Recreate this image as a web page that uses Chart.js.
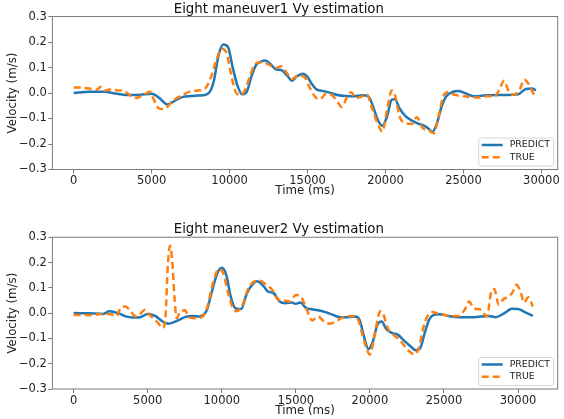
<!DOCTYPE html>
<html>
<head>
<meta charset="utf-8">
<script src="https://cdn.jsdelivr.net/npm/chart.js@4.4.0/dist/chart.umd.min.js"></script>
<style>
  html, body { margin: 0; padding: 0; background: #fff; }
  canvas { display: block; }
</style>
</head>
<body>
<canvas id="vy1" width="564" height="210"></canvas>
<canvas id="vy2" width="564" height="209"></canvas>
<script>
"use strict";

// ---- data ----
const seriesLabels = ["PREDICT", "TRUE"];
const chartTitles = ["Eight maneuver1 Vy estimation", "Eight maneuver2 Vy estimation"];
const xTicks = [0, 5000, 10000, 15000, 20000, 25000, 30000];
const yTicks = [-0.3, -0.2, -0.1, 0.0, 0.1, 0.2, 0.3];

const m1PredictTime = [0,1000,2000,2500,3000,3500,4000,4500,5000,5500,6000,6500,7000,7500,8000,8500,8800,9000,9300,9600,9900,10200,10500,10800,11100,11400,11700,12000,12300,12600,13000,13300,13700,14000,14300,14700,15000,15300,15600,16000,16500,17000,17500,18000,18500,18900,19200,19500,19800,20100,20400,20600,20900,21300,21700,22100,22500,22800,23000,23300,23600,23900,24300,24700,25200,25700,26500,27500,28500,29000,29400,29650];
const m1PredictVy = [0.0,0.005,0.005,0.0,-0.005,-0.008,-0.008,-0.005,-0.003,-0.02,-0.045,-0.03,-0.015,-0.012,-0.01,-0.006,0.012,0.05,0.15,0.19,0.18,0.1,0.03,-0.005,0.005,0.065,0.11,0.123,0.128,0.115,0.092,0.09,0.068,0.048,0.065,0.076,0.063,0.033,0.013,0.008,0.0,-0.009,-0.012,-0.013,-0.009,-0.013,-0.053,-0.105,-0.128,-0.092,-0.026,-0.024,-0.06,-0.092,-0.108,-0.12,-0.129,-0.142,-0.153,-0.118,-0.053,-0.013,0.004,0.008,-0.003,-0.013,-0.009,-0.008,-0.005,0.016,0.018,0.01];

const m1TrueTime = [0,500,1000,1500,1700,2000,2500,2800,3000,3500,3700,4000,4300,4600,4900,5100,5400,5700,6000,6300,6700,7000,7500,8000,8400,8600,8900,9200,9500,9800,10100,10400,10700,11000,11300,11600,11900,12300,12700,13000,13300,13700,14000,14400,14800,15100,15500,15800,16200,16600,17000,17200,17500,17800,18100,18500,18800,19100,19500,19800,20100,20400,20600,20900,21300,21700,22000,22400,22800,23100,23400,23700,24000,24500,25000,25500,26000,26500,27000,27300,27600,27900,28200,28600,28900,29200,29500,29650];
const m1TrueVy = [0.022,0.021,0.018,0.013,0.024,0.01,0.016,0.01,0.01,-0.003,-0.013,-0.02,-0.013,-0.003,0.005,-0.02,-0.057,-0.063,-0.055,-0.033,-0.017,-0.007,0.007,0.01,0.016,0.033,0.079,0.138,0.174,0.158,0.072,0.003,-0.008,0.013,0.066,0.11,0.121,0.118,0.105,0.099,0.105,0.076,0.055,0.068,0.063,0.026,-0.016,-0.024,-0.003,-0.01,-0.042,-0.055,-0.02,0.003,-0.02,-0.013,-0.005,-0.053,-0.121,-0.151,-0.066,0.01,-0.007,-0.092,-0.118,-0.121,-0.095,-0.138,-0.147,-0.158,-0.092,-0.013,0.003,-0.008,-0.013,-0.016,-0.018,-0.013,-0.013,0.013,0.048,0.007,-0.007,0.013,0.053,0.033,-0.003,-0.007];

const m2PredictTime = [0,1000,2000,2400,3000,3500,4000,4500,5000,5500,6000,6400,7000,7500,8000,8500,9000,9300,9700,10000,10300,10600,10900,11300,11700,12100,12400,12800,13100,13500,13900,14300,14700,15000,15300,15700,16000,16500,17000,17500,18000,18500,19000,19300,19600,19900,20200,20500,20800,21100,21500,21900,22300,22700,23100,23400,23700,24000,24300,24700,25300,26000,27000,28000,28500,29000,29600,30000,30500,31000];
const m2PredictVy = [0.0,-0.001,-0.003,0.007,0.0,-0.013,-0.017,-0.016,-0.003,-0.011,-0.033,-0.042,-0.03,-0.016,-0.011,-0.013,0.013,0.079,0.158,0.179,0.151,0.066,0.02,0.016,0.079,0.116,0.126,0.108,0.086,0.079,0.046,0.039,0.042,0.037,0.042,0.02,0.016,0.011,0.004,-0.007,-0.016,-0.016,-0.013,-0.026,-0.092,-0.142,-0.112,-0.046,-0.033,-0.063,-0.079,-0.086,-0.108,-0.129,-0.147,-0.138,-0.079,-0.026,-0.007,-0.004,-0.011,-0.016,-0.016,-0.011,-0.016,-0.003,0.017,0.016,0.003,-0.011];

const m2TrueTime = [0,1000,2000,2500,2900,3200,3500,3800,4200,4500,4800,5200,5700,6000,6200,6350,6500,6650,6800,6950,7200,7500,7800,8200,8700,9000,9400,9800,10100,10400,10700,11000,11400,11800,12200,12600,13000,13400,13800,14200,14600,15000,15300,15700,16100,16500,16900,17300,17700,18200,18800,19200,19500,19800,20000,20300,20700,20900,21200,21600,22000,22400,22800,23000,23300,23600,23900,24200,24700,25500,26000,26400,26700,27000,27500,27900,28200,28400,28700,29000,29300,29600,29900,30200,30400,30700,31000];
const m2TrueVy = [-0.007,-0.008,-0.003,-0.004,-0.011,0.024,0.026,0.011,-0.013,-0.003,0.013,-0.011,-0.039,-0.059,-0.013,0.184,0.266,0.21,0.066,-0.02,0.007,0.011,-0.017,-0.02,-0.013,0.02,0.118,0.174,0.158,0.086,0.026,0.007,0.033,0.099,0.125,0.128,0.112,0.092,0.053,0.05,0.046,0.072,0.068,0.02,-0.029,-0.013,-0.033,-0.042,-0.033,-0.016,-0.011,-0.026,-0.086,-0.145,-0.164,-0.092,0.007,-0.003,-0.059,-0.086,-0.105,-0.134,-0.158,-0.164,-0.138,-0.059,-0.011,0.004,-0.003,-0.011,-0.011,0.013,0.046,0.02,0.013,-0.013,0.086,0.095,0.033,0.055,0.063,0.079,0.112,0.079,0.042,0.063,0.026];

// ---- styling ----
const FONT = "'DejaVu Sans', sans-serif";
const blue = "#1f77b4", orange = "#ff7f0e";
const spineColor = "#7a7a7a", textColor = "#222";

function toPoints(t, v) {
    return t.map(function (x, i) { return { x: x, y: v[i] }; });
}

function fmtY(v) {
    var r = Math.round(v * 10) / 10;
    return r < 0 ? "\u2212" + Math.abs(r).toFixed(1) : r.toFixed(1);
}

// matplotlib-like frame + legend box in the lower right of the axes
const frameLegend = {
    id: "frameLegend",
    afterDatasetsDraw: function (chart) {
        var ctx = chart.ctx, a = chart.chartArea;
        ctx.save();
        ctx.strokeStyle = spineColor;
        ctx.lineWidth = 1;
        ctx.strokeRect(a.left, a.top, a.right - a.left, a.bottom - a.top);

        var w = 75, h = 28, r = 2.5;
        var bx = a.right - 4 - w, by = a.bottom - 3.5 - h;
        ctx.beginPath();
        ctx.moveTo(bx + r, by);
        ctx.arcTo(bx + w, by, bx + w, by + h, r);
        ctx.arcTo(bx + w, by + h, bx, by + h, r);
        ctx.arcTo(bx, by + h, bx, by, r);
        ctx.arcTo(bx, by, bx + w, by, r);
        ctx.closePath();
        ctx.fillStyle = "rgba(255,255,255,0.85)";
        ctx.fill();
        ctx.strokeStyle = "#d6d6d6";
        ctx.stroke();

        ctx.font = "9.4px " + FONT;
        ctx.textBaseline = "middle";
        ctx.fillStyle = textColor;
        var rows = [by + 7, by + 19.3];
        chart.data.datasets.forEach(function (ds, i) {
            ctx.beginPath();
            ctx.setLineDash(ds.borderDash || []);
            ctx.strokeStyle = ds.borderColor;
            ctx.lineWidth = ds.borderWidth;
            ctx.moveTo(bx + 3, rows[i]);
            ctx.lineTo(bx + 24, rows[i]);
            ctx.stroke();
            ctx.setLineDash([]);
            ctx.fillText(ds.label, bx + 31, rows[i]);
        });
        ctx.restore();
    }
};

function makeChart(id, title, predict, truth, lay) {
    return new Chart(document.getElementById(id), {
        type: "line",
        data: {
            datasets: [{
                label: seriesLabels[0],
                data: predict,
                borderColor: blue,
                borderWidth: 2.5,
                pointRadius: 0,
                cubicInterpolationMode: "monotone",
                order: 1
            }, {
                label: seriesLabels[1],
                data: truth,
                borderColor: orange,
                borderWidth: 2.5,
                borderDash: [7, 4],
                pointRadius: 0,
                cubicInterpolationMode: "monotone",
                order: 0
            }]
        },
        options: {
            responsive: false,
            animation: false,
            devicePixelRatio: 1,
            layout: { padding: { left: 0, right: 6.3, top: 0, bottom: 0 } },
            plugins: {
                legend: { display: false },
                tooltip: { enabled: false },
                title: {
                    display: true,
                    text: title,
                    color: "#111",
                    font: { family: FONT, size: 13.3, weight: "normal", lineHeight: 0.8 },
                    padding: { top: lay.titleTop, bottom: lay.titleBottom }
                }
            },
            scales: {
                x: {
                    type: "linear",
                    min: lay.xMin,
                    max: lay.xMax,
                    afterBuildTicks: function (s) { s.ticks = xTicks.map(function (v) { return { value: v }; }); },
                    afterFit: function (s) { s.height = lay.xHeight; },
                    grid: { drawOnChartArea: false, drawTicks: true, tickLength: 4, color: spineColor },
                    border: { display: false },
                    ticks: {
                        autoSkip: false, maxRotation: 0, padding: 1, color: textColor,
                        font: { family: FONT, size: 11.5 },
                        callback: function (v) { return String(v); }
                    },
                    title: {
                        display: true, text: "Time (ms)", color: textColor,
                        font: { family: FONT, size: 11.8 },
                        padding: { top: 0, bottom: lay.xTitlePad }
                    }
                },
                y: {
                    min: -0.3,
                    max: 0.3,
                    afterBuildTicks: function (s) { s.ticks = yTicks.map(function (v) { return { value: v }; }); },
                    afterFit: function (s) { s.width = 52.4; },
                    grid: { drawOnChartArea: false, drawTicks: true, tickLength: 4, color: spineColor },
                    border: { display: false },
                    ticks: {
                        padding: 1.5, color: textColor,
                        font: { family: FONT, size: 11.5 },
                        callback: fmtY
                    },
                    title: {
                        display: true, text: "Velocity (m/s)", color: textColor,
                        font: { family: FONT, size: 11.8 },
                        padding: { top: 5.6, bottom: 0 }
                    }
                }
            }
        },
        plugins: [frameLegend]
    });
}

makeChart("vy1", chartTitles[0], toPoints(m1PredictTime, m1PredictVy), toPoints(m1TrueTime, m1TrueVy),
    { xMin: -1366, xMax: 31045, titleTop: 4.7, titleBottom: 1.2, xHeight: 40.5, xTitlePad: 11.7 });
makeChart("vy2", chartTitles[1], toPoints(m2PredictTime, m2PredictVy), toPoints(m2TrueTime, m2TrueVy),
    { xMin: -1438, xMax: 32680, titleTop: 14.2, titleBottom: 2.4, xHeight: 30, xTitlePad: 1.0 });
</script>
</body>
</html>
